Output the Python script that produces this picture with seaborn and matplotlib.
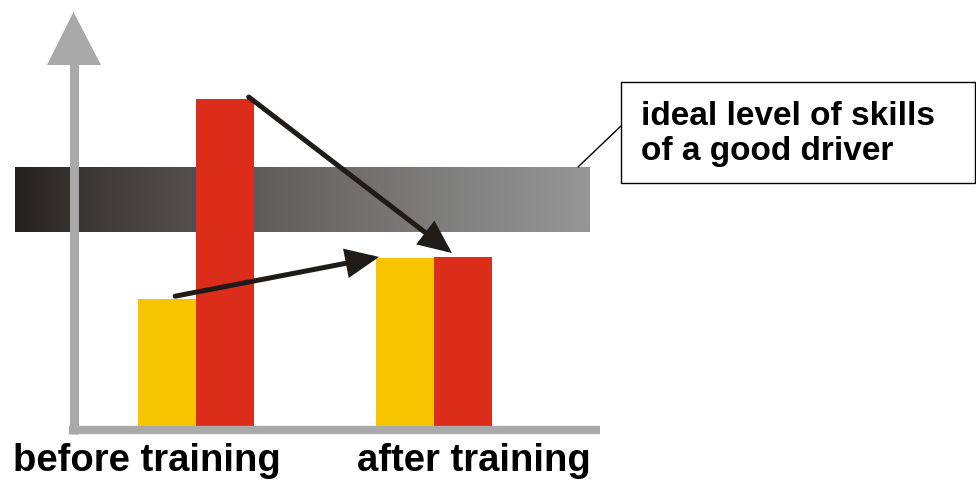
import numpy as np
import pandas as pd
import matplotlib
matplotlib.use("Agg")
import matplotlib.pyplot as plt
from matplotlib.patches import Polygon, Rectangle
from matplotlib.transforms import blended_transform_factory
import seaborn as sns

# data (skill scale, arbitrary units)
phases = ["before training", "after training"]
series = ["actual skills", "self-assessment"]
actual_skills = [38.8, 51.4]
self_assessment = [100.0, 51.7]
ideal_band = [59.3, 78.9]   # ideal level of skills of a good driver
band_lines = ["ideal level of skills", "of a good driver"]

colors = {"actual skills": "#f6c500", "self-assessment": "#dc2c1a"}
AXIS_GRAY = "#a9a9a9"
ARROW = "#1f1b18"

df = pd.DataFrame({
    "phase": phases * 2,
    "series": [series[0]] * 2 + [series[1]] * 2,
    "value": actual_skills + self_assessment,
})

sns.set_style("white")
plt.rcParams["font.family"] = ["Liberation Sans", "DejaVu Sans"]
plt.rcParams["text.color"] = "black"

W, H = 976, 481
fig = plt.figure(figsize=(W / 100, H / 100), dpi=100)
ax = fig.add_axes([0, 0, 1, 1])

sns.barplot(data=df, x="phase", y="value", hue="series", hue_order=series,
            order=phases, palette=colors, width=0.487, saturation=1,
            linewidth=0, legend=False, ax=ax, zorder=2)
bars = list(ax.patches)


def set_limits():
    # page layout: value 0 sits on the grey base line
    ax.set_xlim(-196 / 238, (W - 196) / 238)
    ax.set_ylim(-54 / 3.27, (H - 54) / 3.27)


set_limits()
ax.axis("off")


def fx(px):
    return px / W


def fy(py):
    return 1 - py / H


# gradient band for the ideal level
t = np.linspace(0, 1, 256) ** 0.75
c0 = np.array([0x22, 0x1e, 0x1b]) / 255
c1 = np.array([0x96, 0x96, 0x96]) / 255
grad = (c0[None, :] * (1 - t[:, None]) + c1[None, :] * t[:, None])[None, :, :]
blend = blended_transform_factory(ax.transAxes, ax.transData)
ax.imshow(grad, extent=[fx(15), fx(590), ideal_band[0], ideal_band[1]],
          transform=blend, aspect="auto", interpolation="bilinear", zorder=1)
set_limits()

# grey axes with arrow head
ax.plot([fx(69), fx(600)], [fy(431), fy(431)], transform=ax.transAxes,
        color=AXIS_GRAY, lw=6, solid_capstyle="butt", zorder=3)
ax.plot([fx(73.5), fx(73.5)], [fy(435), fy(64)], transform=ax.transAxes,
        color=AXIS_GRAY, lw=6.5, solid_capstyle="butt", zorder=3)
ax.add_patch(Polygon([[fx(47), fy(66)], [fx(101), fy(66)], [fx(73.5), fy(13)]],
                     closed=True, transform=ax.transAxes, facecolor=AXIS_GRAY,
                     edgecolor="none", zorder=3))

# arrows between the bars
y0, y1, r0, r1 = bars[0], bars[1], bars[2], bars[3]


def top_point(bar, frac, lift):
    return (bar.get_x() + frac * bar.get_width(), bar.get_height() + lift)


arrow_kw = dict(arrowstyle="-|>,head_length=0.9,head_width=0.4", lw=3.6,
                color=ARROW, mutation_scale=20, shrinkA=0, shrinkB=0,
                joinstyle="miter")
ax.annotate("", xy=top_point(y1, 0.05, 0.3), xytext=top_point(y0, 0.64, 0.9),
            arrowprops=arrow_kw, zorder=4)
ax.annotate("", xy=top_point(r1, 0.31, 1.2), xytext=top_point(r0, 0.91, 0.6),
            arrowprops=arrow_kw, zorder=4)

# callout box
ax.add_patch(Rectangle((fx(621), fy(184)), fx(975) - fx(621), fy(83) - fy(184),
                       transform=ax.transAxes, facecolor="white",
                       edgecolor="black", lw=1.0, zorder=4))
ax.plot([fx(621), fx(578)], [fy(127), fy(168)], transform=ax.transAxes,
        color="black", lw=1.0, zorder=4)
for line, base in zip(band_lines, [125, 160]):
    ax.text(fx(641), fy(base), line, transform=ax.transAxes, ha="left",
            va="baseline", fontsize=24, fontweight="bold", zorder=5)

# category labels
for label, cx in zip(phases, [146.5, 474]):
    ax.text(fx(cx), fy(471), label, transform=ax.transAxes, ha="center",
            va="baseline", fontsize=27.5, fontweight="bold")

fig.savefig("out.png", dpi=100)
